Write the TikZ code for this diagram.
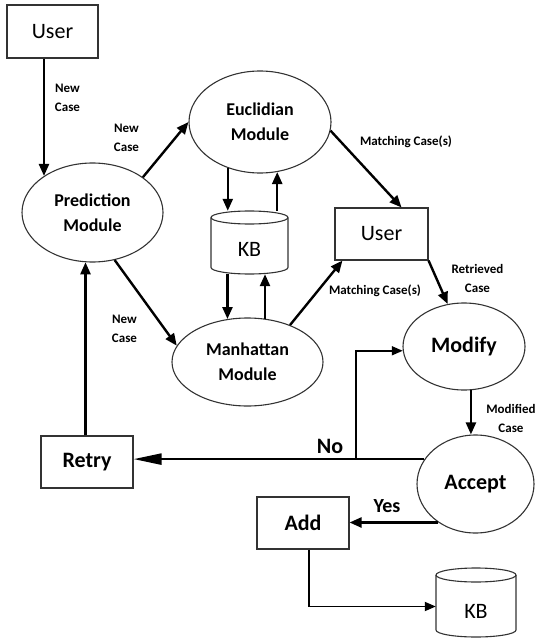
\documentclass[tikz,border=0pt]{standalone}
\usepackage{fontspec}
\setmainfont{Carlito}
\usetikzlibrary{shapes.geometric,arrows.meta,calc}
\begin{document}
\begin{tikzpicture}[x=1pt,y=-1pt,
  shapeline/.style={draw=black!80,line width=1.1pt},
  box/.style={shapeline,rectangle,inner sep=0pt},
  oval/.style={shapeline,ellipse,inner sep=0pt,align=center},
  bigb/.style={font=\fontsize{18}{25}\selectfont\bfseries},
  hugeb/.style={font=\fontsize{22}{26}\selectfont\bfseries},
  reg/.style={font=\fontsize{22}{26}\selectfont},
  lbl/.style={font=\fontsize{13}{19}\selectfont\bfseries,align=center,inner sep=0pt},
  arr/.style={line width=2.4pt,-{Triangle[length=12pt,width=10pt]}},
  longarr/.style={line width=2.4pt,-{Triangle[length=28pt,width=11pt]}},
  tarr/.style={line width=1.8pt,-{Triangle[length=11pt,width=9pt]}},
]
\useasboundingbox (0,0) rectangle (535,639);

% nodes
\node[box,reg,minimum width=91pt,minimum height=53pt] (user1) at (52.5,31.5) {User};
\node[oval,bigb,minimum width=141pt,minimum height=99pt] (pred) at (92.5,212.5) {Prediction\\Module};
\node[oval,bigb,minimum width=142pt,minimum height=102pt] (euc) at (260,122) {Euclidian\\Module};
\node[reg,inner sep=0pt,minimum width=77pt,minimum height=63pt,text height=28pt,text depth=0pt] (kb1) at (249.5,242.5) {KB};
\node[oval,bigb,minimum width=151pt,minimum height=88pt] (man) at (247.5,362) {Manhattan\\Module};
\node[box,reg,minimum width=93pt,minimum height=52pt] (user2) at (381.5,234) {User};
\node[oval,hugeb,minimum width=122pt,minimum height=87pt] (modify) at (464,346.5) {Modify};
\node[oval,hugeb,minimum width=117pt,minimum height=98pt] (accept) at (475.5,484) {Accept};
\node[box,hugeb,minimum width=92pt,minimum height=52pt] (retry) at (87,462) {Retry};
\node[box,hugeb,minimum width=92pt,minimum height=52pt] (add) at (303,523) {Add};
\node[reg,inner sep=0pt,minimum width=80pt,minimum height=69pt,text height=31pt,text depth=0pt] (kb2) at (476,602.5) {KB};

% cylinders
\draw[shapeline] (211,217.5) -- (211,267.5) arc[start angle=180,end angle=360,x radius=38.5pt,y radius=6.5pt] -- (288,217.5);
\draw[shapeline] (249.5,217.5) ellipse[x radius=38.5pt,y radius=6.5pt];
\draw[shapeline] (436,575) -- (436,630) arc[start angle=180,end angle=360,x radius=40pt,y radius=7pt] -- (516,575);
\draw[shapeline] (476,575) ellipse[x radius=40pt,y radius=7pt];

% connectors
\draw[arr] (user1.south -| pred.143) -- (pred.143);
\draw[arr] (pred.35) -- (euc.180);
\draw[arr] (euc.235) -- (euc.235 |- kb1.north);
\draw[arr] (kb1.north -| euc.289) -- (euc.289);
\draw[arr] (kb1.south -| man.115) -- (man.115);
\draw[arr] (man.68) -- (man.68 |- kb1.south);
\draw[arr] (pred.295) -- (man.167);
\draw[arr] (euc.353) -- ([xshift=20pt]user2.north);
\draw[arr] (man.41) -- ([xshift=8pt]user2.south west);
\draw[arr] (user2.south east) -- (modify.111);
\draw[arr] (modify.279) -- (modify.279 |- accept.north);
\draw[longarr] (accept.154) -- (accept.154 -| retry.east);
\coordinate (njx) at (356,0);
\coordinate (nj) at (accept.154 -| njx);
\draw[tarr] (nj) |- (modify.184);
\draw[arr] (accept.226) -- (accept.226 -| add.east);
\draw[arr] (retry.north -| pred.262) -- (pred.262);
\draw[tarr] ([xshift=6pt]add.south) |- ([yshift=-4pt]kb2.west);

% labels
\node[lbl] (l1) at (67.5,97.5) {New\\Case};
\node[lbl] (l2) at (126.5,138) {New\\Case};
\node[lbl] (l3) at (124.5,329) {New\\Case};
\node[lbl] (l4) at (406,142) {Matching Case(s)};
\node[lbl] (l5) at (375,291) {Matching Case(s)};
\node[lbl] (l6) at (477.5,278.5) {Retrieved\\Case};
\node[lbl] (l7) at (511,418) {Modified\\Case};
\node[hugeb,inner sep=0pt] (lno) at (330,446) {No};
\node[font=\fontsize{20}{24}\selectfont\bfseries,inner sep=0pt] (lyes) at (387,506) {Yes};
\end{tikzpicture}
\end{document}
